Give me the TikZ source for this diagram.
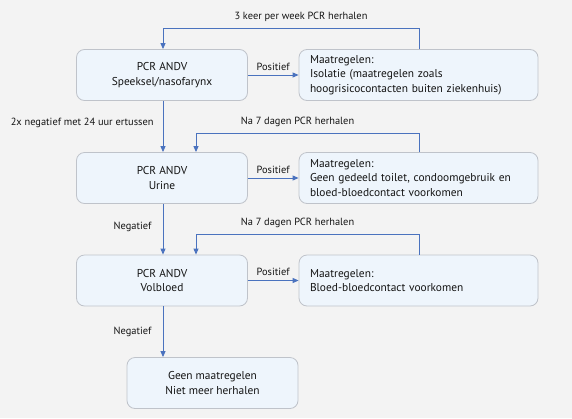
\documentclass[tikz,border=0pt]{standalone}
\usepackage{fontspec}
\setmainfont{PT Sans}
\usetikzlibrary{arrows.meta,positioning}
\definecolor{bg}{HTML}{F3F3F3}
\definecolor{boxfill}{HTML}{EEF5FC}
\definecolor{boxline}{HTML}{BFC3CA}
\definecolor{conn}{HTML}{4A72BE}
\definecolor{txt}{HTML}{141414}
\tikzset{
  stepbox/.style={draw=boxline, fill=boxfill, rounded corners=8pt, line width=0.8pt,
    minimum width=171pt, minimum height=51pt, align=center, font=\fontsize{11.4}{14.5}\selectfont, text=txt, inner sep=0pt},
  measbox/.style={draw=boxline, fill=boxfill, rounded corners=8pt, line width=0.8pt,
    minimum width=239pt, minimum height=51pt, align=left, font=\fontsize{11.4}{14.5}\selectfont, text=txt,
    text width=217pt, inner xsep=11pt, inner ysep=0pt},
  conn/.style={draw=conn, line width=0.9pt, -{Triangle[length=6pt,width=5pt]}},
  lbl/.style={font=\fontsize{10.4}{12}\selectfont, text=txt, inner sep=1pt}
}
\begin{document}
\begin{tikzpicture}[x=1pt,y=-1pt]
\fill[bg] (0,0) rectangle (572,418);
\useasboundingbox (0,0) rectangle (572,418);
% boxes
\node[stepbox] (p1) at (162,75) {PCR ANDV\\Speeksel/nasofarynx};
\node[measbox] (m1) at (418.5,75) {Maatregelen:\\Isolatie (maatregelen zoals\\hoogrisicocontacten buiten ziekenhuis)};
\node[stepbox] (p2) at (162,178) {PCR ANDV\\Urine};
\node[measbox] (m2) at (418.5,178) {Maatregelen:\\Geen gedeeld toilet, condoomgebruik en\\bloed-bloedcontact voorkomen};
\node[stepbox] (p3) at (162,280.5) {PCR ANDV\\Volbloed};
\node[measbox] (m3) at (418.5,280.5) {Maatregelen:\\Bloed-bloedcontact voorkomen};
\node[stepbox] (g) at (212.5,383) {Geen maatregelen\\Niet meer herhalen};
% coordinates for loops
\coordinate (l1a) at (419,28);
\coordinate (l1b) at (163,28);
\coordinate (l2a) at (419,133);
\coordinate (l2b) at (196,133);
\coordinate (l3a) at (419,234);
\coordinate (l3b) at (196,234);
% positive arrows
\draw[conn] (p1.east) -- node[lbl, above=3pt] {Positief} (m1.west);
\draw[conn] (p2.east) -- node[lbl, above=3pt] {Positief} (m2.west);
\draw[conn] (p3.east) -- node[lbl, above=3pt] {Positief} (m3.west);
% loops
\draw[conn] (m1.north -| l1a) -- (l1a) -- node[lbl, above=5pt, xshift=10pt] {3 keer per week PCR herhalen} (l1b) -- (p1.north -| l1b);
\draw[conn] (m2.north -| l2a) -- (l2a) -- node[lbl, above=5pt, xshift=-10pt] {Na 7 dagen PCR herhalen} (l2b) -- (p2.north -| l2b);
\draw[conn] (m3.north -| l3a) -- (l3a) -- node[lbl, above=5pt, xshift=-10pt] {Na 7 dagen PCR herhalen} (l3b) -- (p3.north -| l3b);
% negative arrows
\draw[conn] (p1.south -| l1b) -- node[lbl, left=8pt, pos=0.42] {2x negatief met 24 uur ertussen} (p2.north -| l1b);
\draw[conn] (p2.south -| l1b) -- node[lbl, left=10pt, pos=0.45] {Negatief} (p3.north -| l1b);
\draw[conn] (p3.south -| l1b) -- node[lbl, left=10pt, pos=0.5] {Negatief} (g.north -| l1b);
\end{tikzpicture}
\end{document}
